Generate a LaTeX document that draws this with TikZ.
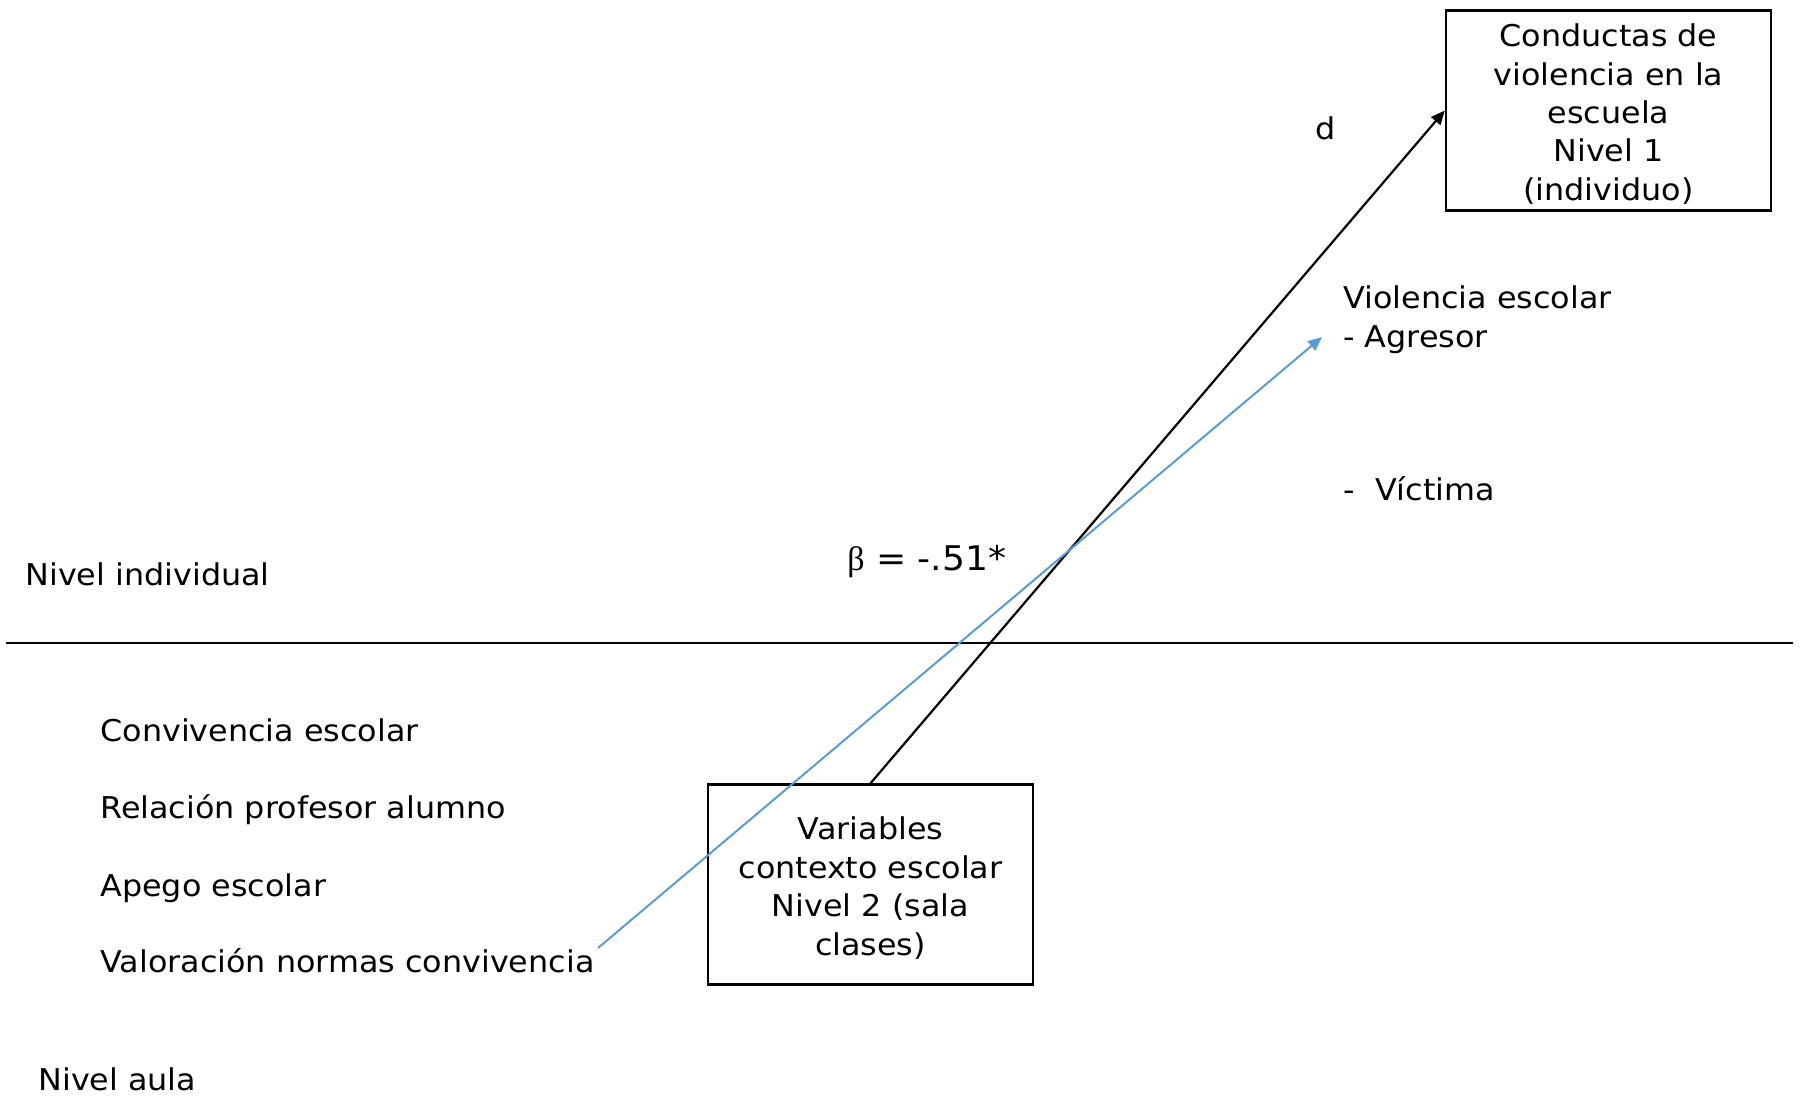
\documentclass[tikz,border=0pt]{standalone}
\usepackage{fontspec}
\setmainfont{DejaVu Sans}[FakeStretch=1.06]
\newfontfamily\betafont{Liberation Serif}
\usetikzlibrary{arrows.meta}
\definecolor{lineblue}{HTML}{5B9BD5}

\begin{document}
\begin{tikzpicture}[x=0.5pt, y=-0.5pt, >={Triangle[length=7pt,width=6pt]},
  every node/.style={font=\fontsize{15}{19.2}\selectfont, inner sep=0pt},
  box/.style={draw, line width=1.2pt, align=center, minimum width=162.5pt, minimum height=100pt},
  lbl/.style={anchor=base west}]
\useasboundingbox (0,0) rectangle (1806,1102);
% niveles
\draw[line width=0.6pt] (6,643) -- (1793,643);
\node[lbl] (individual) at (25,585) {Nivel individual};
\node[lbl] (aula) at (38,1090) {Nivel aula};
% variables nivel 2
\node[lbl] (convivencia) at (100,741) {Convivencia escolar};
\node[lbl] (relacion) at (100,818) {Relación profesor alumno};
\node[lbl] (apego) at (100,896) {Apego escolar};
\node[lbl] (valoracion) at (100,972) {Valoración normas convivencia};
% cajas
\node[box] (conducta) at (1608.5,110.5) {\rule{0pt}{15pt}Conductas de\\violencia en la\\escuela\\Nivel 1\\(individuo)};
\node[box] (contexto) at (870.5,884.5) {\rule{0pt}{15pt}Variables\\contexto escolar\\Nivel 2 (sala\\clases)};
% resultados
\node[lbl] (violencia) at (1343,308) {Violencia escolar};
\node[lbl] (agresor) at (1343,347) {- Agresor};
\node[lbl] (victima) at (1343,500) {-\ \ Víctima};
\node[lbl] (d) at (1315,140) {d};
\node[lbl, font=\fontsize{17}{20}\selectfont] (beta) at (847,570) {{\betafont β} = -.51*};
% flechas
\coordinate (vstart) at (598,948);
\coordinate (vend) at (1322,337);
\draw[->, line width=1.1pt] (contexto.north) -- (conducta.west);
\draw[->, lineblue, line width=1pt] (vstart) -- (vend);
\end{tikzpicture}
\end{document}
